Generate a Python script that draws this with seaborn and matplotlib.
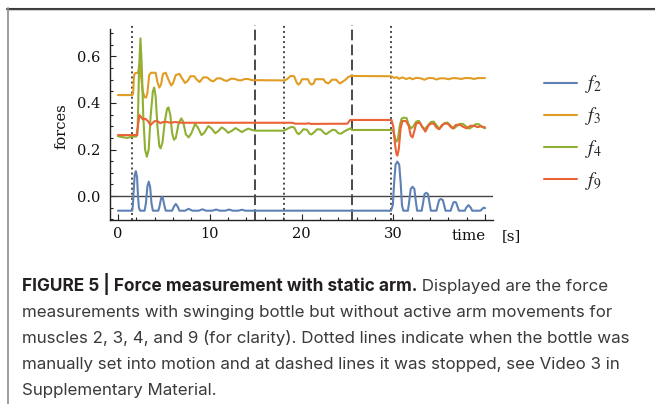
import matplotlib
matplotlib.use("Agg")
import matplotlib.pyplot as plt
from matplotlib.lines import Line2D
from matplotlib.ticker import MultipleLocator, FixedLocator
import pandas as pd
import seaborn as sns

# ---- force traces (time in s, force in arbitrary units) ----
t_f2 = [0, 1.55, 1.62, 1.72, 1.82, 1.95, 2.08, 2.18, 2.28, 2.42,
        2.9, 3.05, 3.2, 3.35, 3.5, 3.65, 3.8,
        4.4, 4.55, 4.7, 4.8, 4.9, 5.05, 5.2,
        5.9, 6.1, 6.3, 6.5, 6.7,
        7.3, 7.7, 8.1, 8.8, 9.2, 9.6, 10.3, 10.7, 11.1, 11.7, 12.1, 12.5,
        13.1, 13.5, 13.9, 29.75,
        29.95, 30.1, 30.25, 30.45, 30.65, 30.8, 30.95, 31.1,
        31.6, 31.75, 31.9, 32.1, 32.3, 32.45, 32.6,
        33.1, 33.25, 33.4, 33.6, 33.8, 33.95, 34.1,
        34.7, 34.85, 35.0, 35.2, 35.4, 35.55, 35.7,
        36.25, 36.4, 36.55, 36.7, 36.85, 37.0, 37.15,
        37.8, 37.95, 38.2, 38.45, 38.6,
        39.5, 39.7, 39.85, 40.0]
f2 = [-0.063, -0.063, -0.04, 0.03, 0.09, 0.107, 0.08, 0.0, -0.05, -0.063,
      -0.063, -0.03, 0.04, 0.062, 0.04, -0.03, -0.063,
      -0.063, -0.04, -0.01, -0.003, -0.01, -0.04, -0.063,
      -0.063, -0.045, -0.034, -0.045, -0.063,
      -0.063, -0.055, -0.063, -0.063, -0.057, -0.063, -0.063, -0.058, -0.063, -0.063, -0.058, -0.063,
      -0.063, -0.059, -0.063, -0.063,
      -0.04, 0.06, 0.135, 0.148, 0.135, 0.06, -0.04, -0.063,
      -0.063, -0.02, 0.03, 0.04, 0.03, -0.02, -0.063,
      -0.063, -0.03, 0.008, 0.014, 0.008, -0.03, -0.063,
      -0.063, -0.04, -0.017, -0.013, -0.017, -0.04, -0.063,
      -0.063, -0.045, -0.028, -0.025, -0.028, -0.045, -0.063,
      -0.063, -0.05, -0.039, -0.05, -0.063,
      -0.063, -0.055, -0.05, -0.052]

t_f3 = [0, 1.55, 1.65, 1.75, 1.9, 2.2, 2.3, 2.4, 2.5, 2.7, 2.9, 3.05, 3.2, 3.4, 3.6,
        4.1, 4.3, 4.5, 4.7, 4.9, 5.2, 5.5, 5.8, 6.0, 6.3, 6.7, 7.0, 7.3, 7.6, 7.9,
        8.3, 8.6, 8.9, 9.3, 9.7, 10.1, 10.4, 10.8, 11.2, 11.6, 11.9, 12.3, 12.7,
        13.1, 13.4, 13.8, 14.2, 14.6, 15.0, 18.2, 18.5, 18.8, 19.2, 19.45, 19.65,
        19.85, 20.05, 20.7, 20.9, 21.1, 21.35, 21.5, 22.4, 22.6, 22.9, 23.1, 23.3,
        23.8, 24.0, 24.2, 24.5, 24.8, 25.1, 25.4, 29.7, 29.9, 30.1, 30.4, 30.6,
        31.0, 31.4, 31.8, 32.1, 32.5, 33.0, 33.4, 33.8, 34.3, 34.7, 35.1, 35.6,
        36.0, 36.5, 37.0, 37.4, 37.8, 38.4, 38.8, 39.2, 40.0]
f3 = [0.434, 0.434, 0.44, 0.52, 0.529, 0.53, 0.56, 0.567, 0.52, 0.45, 0.425, 0.423, 0.44, 0.52, 0.53,
      0.53, 0.49, 0.466, 0.48, 0.525, 0.53, 0.5, 0.475, 0.485, 0.52, 0.525, 0.505, 0.486, 0.495, 0.515,
      0.515, 0.5, 0.49, 0.51, 0.51, 0.497, 0.493, 0.506, 0.506, 0.497, 0.495, 0.504, 0.504,
      0.498, 0.497, 0.503, 0.503, 0.498, 0.498, 0.497, 0.505, 0.516, 0.515, 0.49, 0.479,
      0.485, 0.502, 0.502, 0.485, 0.479, 0.485, 0.502, 0.502, 0.49, 0.484, 0.49, 0.5,
      0.5, 0.49, 0.484, 0.492, 0.5, 0.512, 0.516, 0.515, 0.512, 0.508, 0.511, 0.504,
      0.51, 0.503, 0.508, 0.502, 0.508, 0.506, 0.5, 0.507, 0.507, 0.501, 0.506, 0.506,
      0.502, 0.507, 0.506, 0.503, 0.507, 0.507, 0.503, 0.507, 0.507]

t_f4 = [0, 0.5, 1.0, 1.5, 2.0, 2.15, 2.3, 2.45, 2.6, 2.75, 2.95, 3.15, 3.35, 3.55, 3.8, 3.95,
        4.1, 4.3, 4.5, 4.65, 4.85, 5.1, 5.35, 5.5, 5.7, 5.9, 6.1, 6.3, 6.6, 6.9, 7.1,
        7.4, 7.7, 8.0, 8.4, 8.7, 9.1, 9.4, 9.85, 10.2, 10.6, 10.9, 11.3, 11.6, 12.0,
        12.4, 12.8, 13.1, 13.5, 13.8, 14.2, 14.6, 15.0, 18.1, 18.5, 18.9, 19.2, 19.5,
        19.7, 19.95, 20.2, 20.6, 20.9, 21.1, 21.4, 21.7, 22.1, 22.5, 22.7, 23.0, 23.4,
        23.7, 24.0, 24.3, 24.6, 25.0, 25.35, 25.5, 29.8, 30.0, 30.2, 30.35, 30.5, 30.7,
        30.9, 31.1, 31.45, 31.7, 31.95, 32.2, 32.5, 32.8, 33.1, 33.4, 33.7, 34.1, 34.4,
        34.8, 35.0, 35.3, 35.6, 35.9, 36.3, 36.6, 36.9, 37.3, 37.6, 38.0, 38.3, 38.7,
        39.0, 39.3, 39.7, 40.0]
f4 = [0.257, 0.253, 0.25, 0.255, 0.256, 0.3, 0.55, 0.678, 0.55, 0.35, 0.2, 0.169, 0.2, 0.34, 0.45, 0.466,
      0.43, 0.3, 0.215, 0.205, 0.23, 0.32, 0.375, 0.381, 0.35, 0.27, 0.242, 0.25, 0.31, 0.334, 0.32,
      0.265, 0.252, 0.27, 0.31, 0.295, 0.262, 0.272, 0.301, 0.29, 0.27, 0.278, 0.295, 0.288, 0.272,
      0.28, 0.292, 0.285, 0.275, 0.282, 0.29, 0.284, 0.281, 0.281, 0.29, 0.297, 0.295, 0.272,
      0.266, 0.275, 0.287, 0.285, 0.267, 0.265, 0.275, 0.287, 0.286, 0.27, 0.266, 0.275, 0.285,
      0.283, 0.27, 0.268, 0.276, 0.285, 0.291, 0.284, 0.284, 0.28, 0.25, 0.234, 0.24, 0.3,
      0.332, 0.337, 0.335, 0.305, 0.291, 0.3, 0.32, 0.323, 0.3, 0.287, 0.3, 0.318, 0.32,
      0.3, 0.288, 0.3, 0.314, 0.316, 0.3, 0.29, 0.3, 0.31, 0.31, 0.297, 0.29, 0.3,
      0.309, 0.309, 0.297, 0.291]

t_f9 = [0, 1.6, 2.1, 2.2, 2.35, 2.5, 2.7, 3.0, 3.3, 3.55, 3.8, 4.0, 4.3, 4.6, 4.9, 5.3, 5.7,
        6.2, 7.0, 15.0, 19.0, 19.3, 20.5, 20.8, 21.0, 25.0, 25.3, 29.8, 30.0, 30.2, 30.35,
        30.45, 30.6, 30.8, 31.0, 31.4, 31.7, 31.9, 32.1, 32.3, 32.5, 32.9, 33.2, 33.5, 33.8,
        34.0, 34.4, 34.7, 35.0, 35.3, 35.6, 36.0, 36.3, 36.5, 36.8, 37.2, 37.6, 38.0, 38.4,
        38.8, 39.2, 39.5, 40.0]
f9 = [0.262, 0.262, 0.262, 0.31, 0.348, 0.34, 0.33, 0.332, 0.32, 0.305, 0.315, 0.322, 0.322, 0.313, 0.318, 0.319, 0.315,
      0.318, 0.315, 0.315, 0.315, 0.311, 0.311, 0.313, 0.31, 0.311, 0.327, 0.327, 0.3, 0.22, 0.18,
      0.174, 0.2, 0.29, 0.323, 0.322, 0.3, 0.26, 0.252, 0.28, 0.313, 0.315, 0.295, 0.277, 0.3,
      0.31, 0.312, 0.295, 0.287, 0.305, 0.312, 0.31, 0.295, 0.291, 0.305, 0.308, 0.298, 0.291, 0.302,
      0.302, 0.296, 0.3, 0.295]

muscles = ["$f_2$", "$f_3$", "$f_4$", "$f_9$"]
colors = ["#5E81B5", "#E19C24", "#8FB032", "#EB6235"]

# bottle set swinging (dotted) / stopped (dashed)
t_start = [1.55, 18.1, 29.8]
t_stop = [14.95, 25.45]

x_ticks = [0, 10, 20, 30, 40]
x_ticklabels = ["0", "10", "20", "30", ""]
y_ticks = [0.0, 0.2, 0.4, 0.6]
y_ticklabels = ["0.0", "0.2", "0.4", "0.6"]

caption_bold = "FIGURE 5 | Force measurement with static arm."
caption_lines = [
    " Displayed are the force",
    "measurements with swinging bottle but without active arm movements for",
    "muscles 2, 3, 4, and 9 (for clarity). Dotted lines indicate when the bottle was",
    "manually set into motion and at dashed lines it was stopped, see Video 3 in",
    "Supplementary Material.",
]

# ---- build long-form table ----
frames = []
for name, t, v in zip(muscles, [t_f2, t_f3, t_f4, t_f9], [f2, f3, f4, f9]):
    frames.append(pd.DataFrame({"time": t, "force": v, "muscle": name}))
df = pd.concat(frames, ignore_index=True)

sns.set_style("ticks")
plt.rcParams["font.family"] = ["DejaVu Serif"]
plt.rcParams["mathtext.fontset"] = "stix"

W, H = 655, 404
fig = plt.figure(figsize=(W / 100, H / 100), dpi=100)
ax = fig.add_axes([110 / W, 1 - 220 / H, 383 / W, 191 / H])

for x in t_start:
    ax.axvline(x, ymin=0, ymax=1.02, clip_on=False, color="#4a4a4a", lw=1.4,
               ls=(0, (1, 1.6)), zorder=1)
for x in t_stop:
    ax.axvline(x, ymin=0, ymax=1.02, clip_on=False, color="#4a4a4a", lw=1.4,
               ls=(0, (5.5, 2.2)), zorder=1)
ax.axhline(0, color="#444444", lw=1.0, zorder=1)

sns.lineplot(data=df, x="time", y="force", hue="muscle", hue_order=muscles,
             palette=colors, estimator=None, sort=False, linewidth=1.5,
             ax=ax, legend=True, zorder=3)

ax.set_xlim(-0.87, 40.87)
ax.set_ylim(-0.103, 0.718)
ax.set_xlabel("")
ax.set_ylabel("")
sns.despine(ax=ax)
for s in ("left", "bottom"):
    ax.spines[s].set_color("#222222")
    ax.spines[s].set_linewidth(1.0)

ax.xaxis.set_major_locator(FixedLocator(x_ticks))
ax.set_xticklabels(x_ticklabels)
ax.yaxis.set_major_locator(FixedLocator(y_ticks))
ax.set_yticklabels(y_ticklabels)
ax.xaxis.set_minor_locator(MultipleLocator(2))
ax.yaxis.set_minor_locator(MultipleLocator(0.05))
ax.tick_params(which="both", direction="in", color="#222222", width=0.8,
               labelsize=10.5, labelcolor="#111111")
ax.tick_params(which="major", length=4)
ax.tick_params(which="minor", length=2.2)
ax.tick_params(axis="x", pad=5)
ax.tick_params(axis="y", pad=7)

fig.text(62 / W, 1 - 126 / H, "forces", rotation=90, ha="center", va="center",
         fontsize=10.5, color="#111111")
fig.text(486 / W, 1 - 240 / H, "time", ha="right", va="baseline", fontsize=10.8,
         color="#111111")
fig.text(502 / W, 1 - 240 / H, "[s]", ha="left", va="baseline", fontsize=10.8,
         color="#111111")

sns.move_legend(ax, loc="center left", bbox_to_anchor=(544 / W, 1 - 132.5 / H),
                bbox_transform=fig.transFigure, frameon=False, title=None,
                fontsize=14, handlelength=1.7, handletextpad=0.4,
                labelspacing=0.52, borderpad=0, borderaxespad=0)

# ---- frame around the figure panel ----
fig.add_artist(Line2D([7 / W, 1], [1 - 8.7 / H] * 2, transform=fig.transFigure,
                      color="#3c3c3c", lw=1.5))
fig.add_artist(Line2D([7 / W, 1], [1 - 10 / H] * 2, transform=fig.transFigure,
                      color="#cfcfcf", lw=0.8))
fig.add_artist(Line2D([7.5 / W] * 2, [0, 1 - 8 / H], transform=fig.transFigure,
                      color="#8c8c8c", lw=1.2))

# ---- caption ----
cap_font = ["Inter", "DejaVu Sans"]
cap_size = 12.2
baselines = [291, 317, 342.5, 368.5, 394.5]
renderer = fig.canvas.get_renderer()
tb = fig.text(22 / W, 1 - baselines[0] / H, caption_bold, family=cap_font,
              fontsize=cap_size + 0.2, fontweight="bold", color="#231f20",
              ha="left", va="baseline")
bb = tb.get_window_extent(renderer)
fig.text(bb.x1 / W, 1 - baselines[0] / H, caption_lines[0], family=cap_font,
         fontsize=cap_size, color="#3a3a3a", ha="left", va="baseline")
for line, yb in zip(caption_lines[1:], baselines[1:]):
    fig.text(22 / W, 1 - yb / H, line, family=cap_font, fontsize=cap_size,
             color="#3a3a3a", ha="left", va="baseline")

fig.savefig("out.png", dpi=100)
